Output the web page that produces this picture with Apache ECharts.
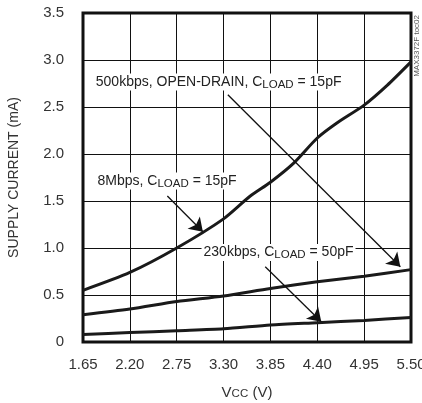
<!DOCTYPE html>
<html>
<head>
<meta charset="utf-8">
<script src="https://cdn.jsdelivr.net/npm/echarts@6/dist/echarts.min.js"></script>
<style>
html,body{margin:0;padding:0;background:#fff;}
#c{width:422px;height:403px;}
</style>
</head>
<body>
<div id="c"></div>
<script>
// ---- data ----
const xTicks = [1.65, 2.20, 2.75, 3.30, 3.85, 4.40, 4.95, 5.50];
const yTicks = [0, 0.5, 1.0, 1.5, 2.0, 2.5, 3.0, 3.5];
const x8M = [1.65, 2.20, 2.75, 3.30, 3.61, 3.85, 4.12, 4.40, 4.63, 4.95, 5.22, 5.50];
const y8M = [0.55, 0.74, 1.00, 1.31, 1.55, 1.70, 1.90, 2.17, 2.33, 2.52, 2.73, 2.98];
const x500k = [1.65, 2.20, 2.75, 3.30, 3.85, 4.40, 4.95, 5.50];
const y500k = [0.29, 0.35, 0.43, 0.49, 0.57, 0.64, 0.70, 0.77];
const x230k = [1.65, 2.20, 2.75, 3.30, 3.85, 4.40, 4.95, 5.50];
const y230k = [0.08, 0.10, 0.12, 0.14, 0.18, 0.205, 0.23, 0.26];
const annoText = ['500kbps, OPEN-DRAIN, C{s|LOAD} = 15pF', '8Mbps, C{s|LOAD} = 15pF', '230kbps, C{s|LOAD} = 50pF'];
const annoPos = [[3.242, 2.766], [2.637, 1.713], [3.945, 0.952]];
const arrowFrom = [[3.35, 2.63], [2.64, 1.553], [3.789, 0.80]];
const arrowTo = [[5.375, 0.80], [3.057, 1.173], [4.447, 0.216]];
const xName = 'V{s|CC} (V)';
const yName = 'SUPPLY CURRENT (mA)';
const watermark = 'MAX3372F toc02';

const FONT = "'Liberation Sans', Arial, sans-serif";
const zip = (xs, ys) => xs.map((x, i) => [x, ys[i]]);
const sub = (c) => ({ fontSize: 11.5, fontFamily: FONT, color: c, padding: [5, 0, 0, 0], verticalAlign: 'bottom', lineHeight: 12 });

const chart = echarts.init(document.getElementById('c'), null, { renderer: 'canvas' });
const lineStyle = { color: '#1a1a1a', width: 3 };

chart.setOption({
  animation: false,
  backgroundColor: '#fff',
  textStyle: { fontFamily: FONT },
  grid: { left: 83, right: 11, top: 13, bottom: 61, containLabel: false, outerBoundsMode: 'none',
    show: true, borderColor: '#111', borderWidth: 3, backgroundColor: 'transparent' },
  xAxis: {
    type: 'value', min: 1.65, max: 5.50, interval: 0.55,
    axisLine: { show: false }, axisTick: { show: false },
    splitLine: { show: true, lineStyle: { color: '#111', width: 1 } },
    axisLabel: { color: '#333', fontSize: 15, fontFamily: FONT, margin: 15,
      formatter: v => (Math.round(v * 100) / 100).toFixed(2) },
    name: xName, nameLocation: 'middle', nameGap: 43,
    nameTextStyle: { color: '#333', fontSize: 15, fontFamily: FONT, rich: { s: sub('#333') } }
  },
  yAxis: {
    type: 'value', min: 0, max: 3.5, interval: 0.5,
    axisLine: { show: false }, axisTick: { show: false },
    splitLine: { show: true, lineStyle: { color: '#111', width: 1 } },
    axisLabel: { color: '#333', fontSize: 15, fontFamily: FONT, margin: 19,
      formatter: v => v === 0 ? '0' : v.toFixed(1) },
    name: yName, nameLocation: 'middle', nameGap: 62, nameRotate: 90,
    nameTextStyle: { color: '#333', fontSize: 14, fontFamily: FONT }
  },
  graphic: [{
    type: 'text', right: 1, top: 15, rotation: Math.PI / 2,
    style: { text: watermark, fontSize: 8, fill: '#555', fontFamily: FONT }
  }],
  series: [
    {
      type: 'line', data: zip(x8M, y8M), smooth: 0.25, symbol: 'none', lineStyle: lineStyle, z: 3,
      markLine: {
        silent: true, symbol: ['none', 'arrow'], symbolSize: 13,
        lineStyle: { color: '#111', width: 1.3, type: 'solid' },
        label: { show: false },
        data: arrowFrom.map((p, i) => [{ coord: p }, { coord: arrowTo[i] }])
      },
      markPoint: {
        silent: true, symbol: 'circle', symbolSize: 0,
        data: annoPos.map((p, i) => ({
          coord: p,
          label: {
            show: true, position: 'inside', formatter: annoText[i],
            fontSize: 14, fontFamily: FONT, color: '#222', lineHeight: 17,
            backgroundColor: '#fff', padding: [0, 2, 0, 2], rich: { s: sub('#222') }
          }
        }))
      }
    },
    { type: 'line', data: zip(x500k, y500k), smooth: 0.25, symbol: 'none', lineStyle: lineStyle, z: 3 },
    { type: 'line', data: zip(x230k, y230k), smooth: 0.25, symbol: 'none', lineStyle: lineStyle, z: 3 }
  ]
});
</script>
</body>
</html>
